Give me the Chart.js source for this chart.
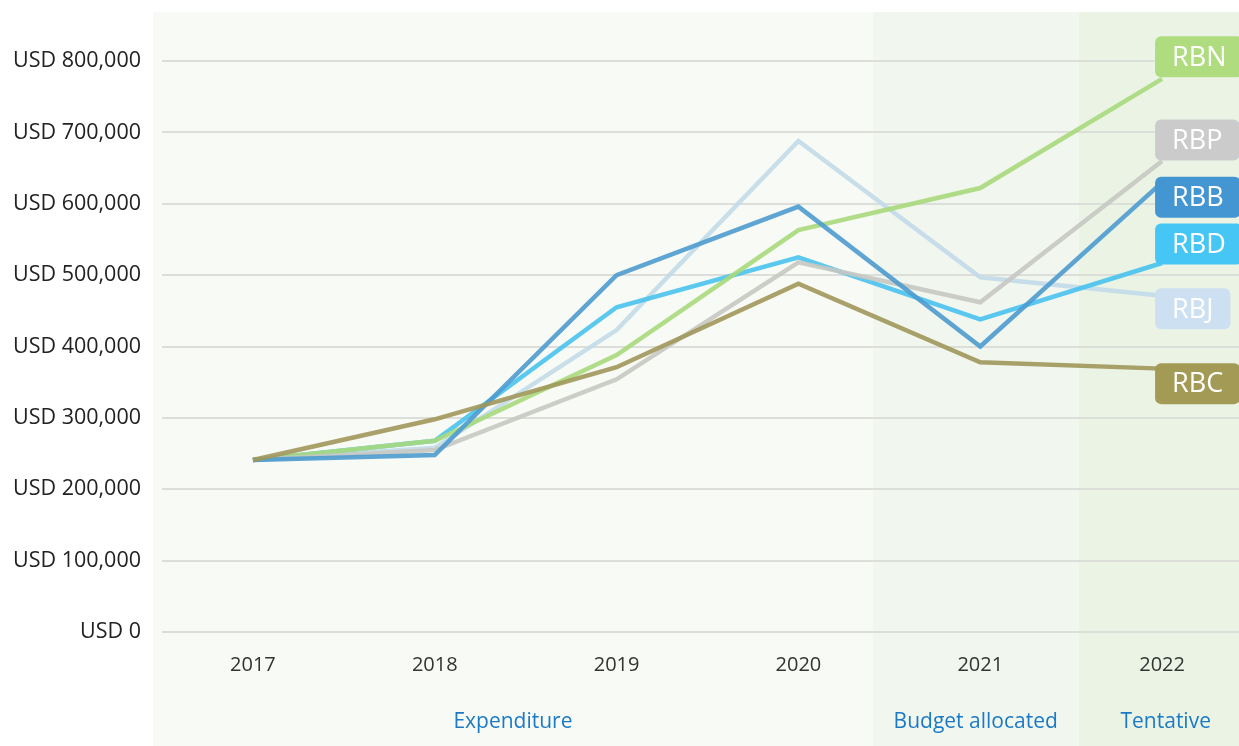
<!DOCTYPE html>
<html>
<head>
<meta charset="utf-8">
<script src="https://cdn.jsdelivr.net/npm/chart.js@4/dist/chart.umd.min.js"></script>
<style>
  html, body { margin: 0; padding: 0; background: #fff; overflow: hidden; }
  #wrap { position: relative; width: 1255px; height: 746px; }
</style>
</head>
<body>
<div id="wrap"><canvas id="chart"></canvas></div>
<script>
// ── Data ──────────────────────────────────────────────────────────────────
const years = ['2017', '2018', '2019', '2020', '2021', '2022'];
const seriesNames = ['RBN', 'RBP', 'RBB', 'RBD', 'RBJ', 'RBC'];
const rbn = [241000, 268000, 388000, 563000, 622000, 775000];
const rbp = [241000, 255000, 354000, 518000, 462000, 660000];
const rbb = [241000, 248000, 500000, 596000, 400000, 630000];
const rbd = [241000, 268000, 455000, 525000, 438000, 517000];
const rbj = [241000, 258000, 423000, 688000, 497000, 471000];
const rbc = [241000, 298000, 371000, 488000, 378000, 369000];
const yTicks = [0, 100000, 200000, 300000, 400000, 500000, 600000, 700000, 800000];
const groupNames = ['Expenditure', 'Budget allocated', 'Tentative'];
// group bounds as (fractional) category positions
const groupBounds = [-0.55, 3.41, 4.54, 5.5];

// ── Styles ────────────────────────────────────────────────────────────────
const FONT = "'Open Sans', 'Noto Sans', sans-serif";
const tagColors = ['#b0dc80', '#cbcbcb', '#4396d2', '#45c6f5', '#cde0f2', '#a39a55'];
const lineColors = ['#a9d97c', '#c6c8c2', '#4d9bcf', '#48c2ee', '#c2dbe9', '#a0975a'];
const lineAlpha = 0.9;
const drawOrder = [4, 3, 2, 5, 6, 1];          // smaller = drawn on top
const labelShift = [-22, -21, 15, -19, 13, 15]; // px nudge so tags don't collide
const groupBg = ['#f8faf6', '#f1f6ee', '#ebf4e4'];

const values = [rbn, rbp, rbb, rbd, rbj, rbc];

function hexA(hex, a) {
  const n = parseInt(hex.slice(1), 16);
  return `rgba(${n >> 16},${(n >> 8) & 255},${n & 255},${a})`;
}

const bgPlugin = {
  id: 'groupBg',
  beforeDraw(chart) {
    const { ctx, chartArea } = chart;
    const x = chart.scales.x;
    const top = chartArea.top - 49;
    ctx.save();
    for (let i = 0; i < groupNames.length; i++) {
      const a = x.getPixelForValue(groupBounds[i]);
      const b = i === groupNames.length - 1 ? chart.width : x.getPixelForValue(groupBounds[i + 1]);
      ctx.fillStyle = groupBg[i];
      ctx.fillRect(a, top, b - a, chart.height - top);
    }
    ctx.restore();
  },
  afterDraw(chart) {
    const { ctx, chartArea } = chart;
    const x = chart.scales.x;
    const y = chart.scales.y;
    ctx.save();
    // group captions
    ctx.font = `21px ${FONT}`;
    ctx.fillStyle = '#1b7ac6';
    ctx.textAlign = 'center';
    ctx.textBaseline = 'middle';
    for (let i = 0; i < groupNames.length; i++) {
      const a = x.getPixelForValue(groupBounds[i]);
      const b = x.getPixelForValue(groupBounds[i + 1]);
      ctx.fillText(groupNames[i], (a + b) / 2, chartArea.bottom + 90);
    }
    // series tags at line ends
    ctx.font = `27px ${FONT}`;
    ctx.textAlign = 'left';
    const last = years.length - 1;
    seriesNames.forEach((name, i) => {
      const px = x.getPixelForValue(last);
      const py = y.getPixelForValue(values[i][last]) + labelShift[i];
      const w = ctx.measureText(name).width + 34;
      const h = 41;
      ctx.fillStyle = tagColors[i];
      ctx.beginPath();
      ctx.roundRect(px - 7, py - h / 2, w, h, 6);
      ctx.fill();
      ctx.fillStyle = '#ffffff';
      ctx.fillText(name, px + 10, py + 1);
    });
    ctx.restore();
  }
};

new Chart(document.getElementById('chart'), {
  type: 'line',
  data: {
    labels: years,
    datasets: seriesNames.map((name, i) => ({
      label: name,
      data: values[i],
      borderColor: hexA(lineColors[i], lineAlpha),
      borderWidth: 4.5,
      pointRadius: 0,
      tension: 0,
      fill: false,
      order: drawOrder[i],
    }))
  },
  options: {
    responsive: true,
    maintainAspectRatio: false,
    animation: false,
    layout: { padding: { top: 61, right: 2, bottom: 0, left: 0 } },
    plugins: { legend: { display: false }, tooltip: { enabled: false } },
    scales: {
      x: {
        offset: true,
        grid: { display: false, drawTicks: false },
        border: { display: false },
        ticks: { color: '#333', font: { family: FONT, size: 20 }, padding: 21 },
        afterFit(scale) { scale.height = 114; },
      },
      y: {
        min: 0,
        max: 800000,
        afterBuildTicks(scale) { scale.ticks = yTicks.map(v => ({ value: v })); },
        grid: { color: '#dcdeda', lineWidth: 2, drawTicks: false },
        border: { display: false },
        ticks: {
          color: '#222',
          font: { family: FONT, size: 21.5 },
          padding: 21,
          callback: v => 'USD ' + v.toLocaleString('en-US'),
        },
        afterFit(scale) { scale.width = 162; },
      },
    },
  },
  plugins: [bgPlugin],
});
</script>
</body>
</html>
